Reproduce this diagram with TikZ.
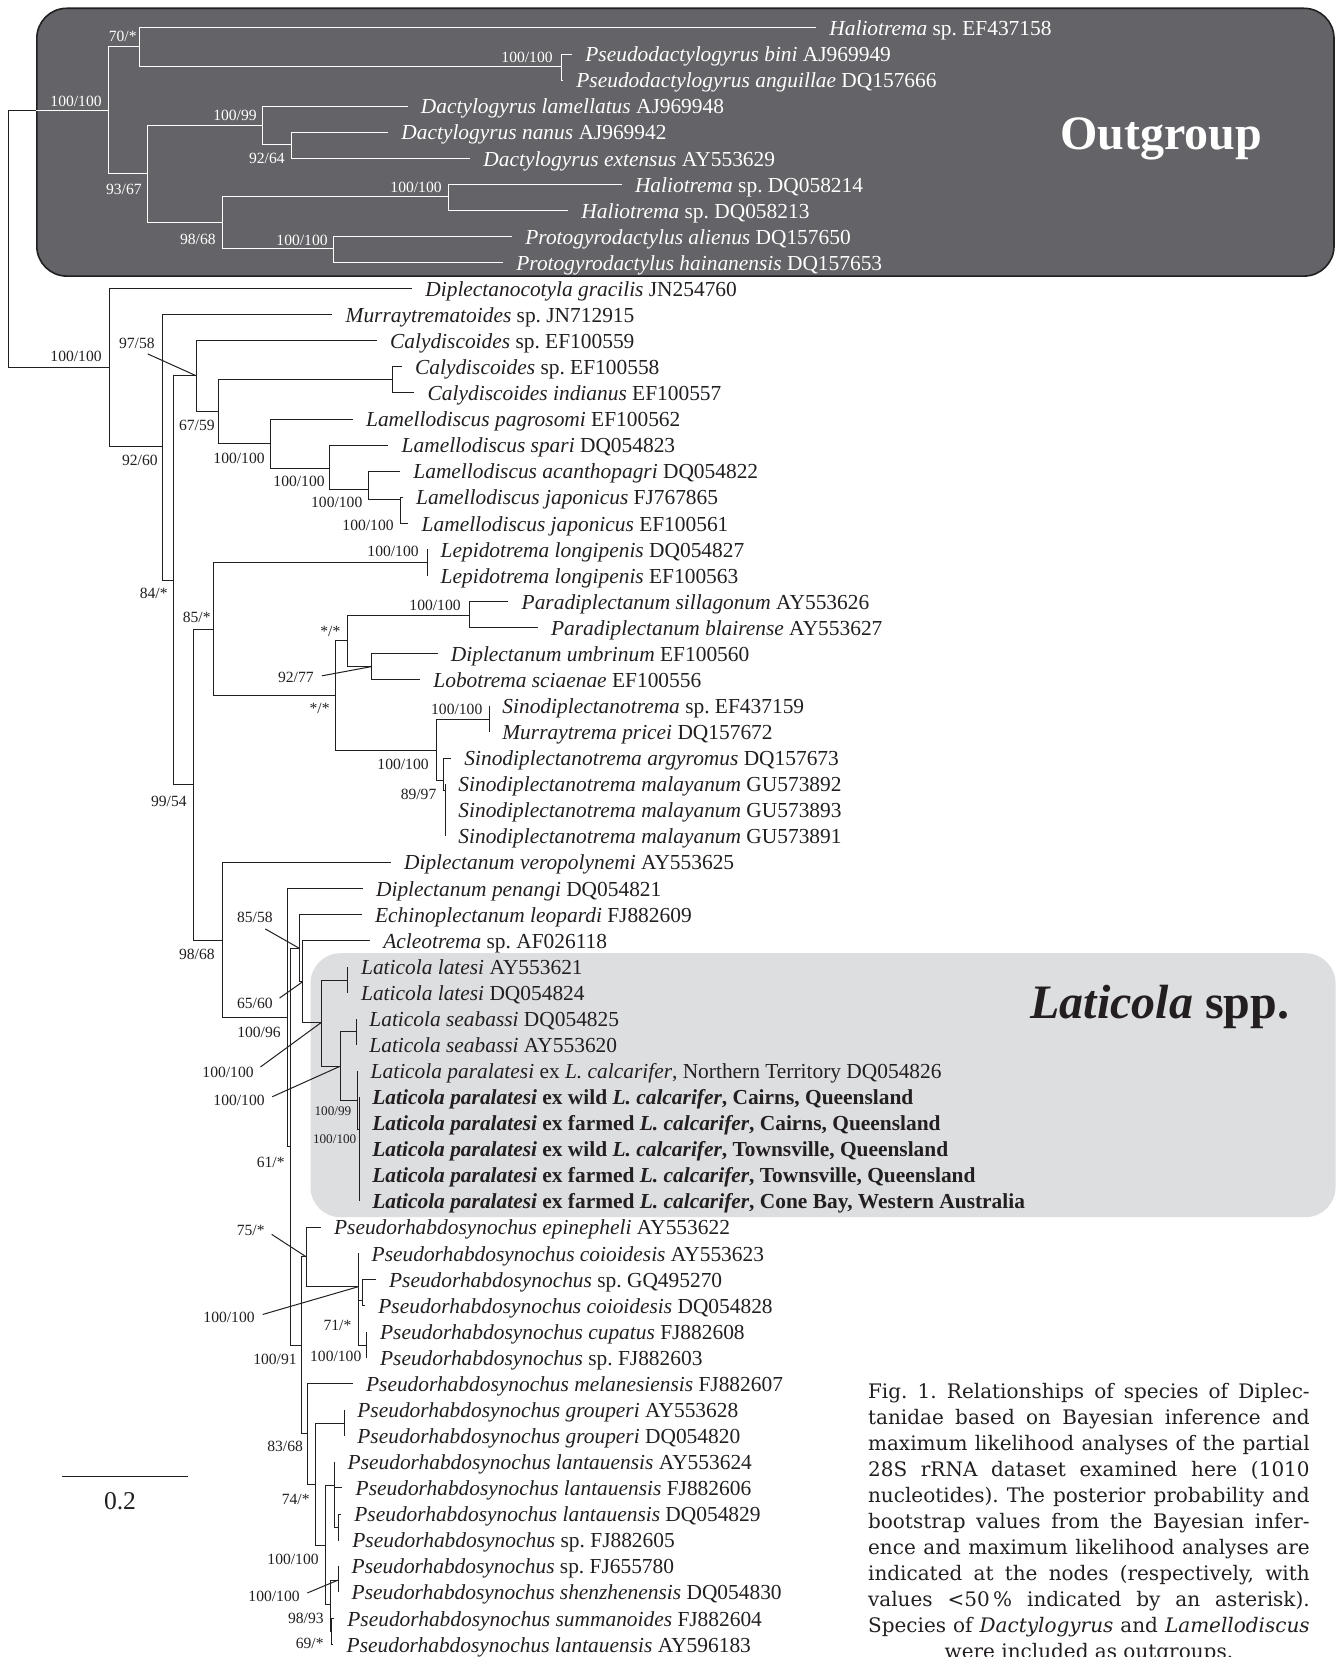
\documentclass[tikz,border=0pt]{standalone}
\usepackage{fontspec}
\setmainfont{Liberation Serif}
\newfontfamily\figcapfont{DejaVu Serif}
\usepackage{xcolor}
\usepackage{tikz}
\usetikzlibrary{positioning, calc}
\definecolor{outgroupcolor}{RGB}{99,99,104}
\definecolor{laticolacolor}{RGB}{221,222,224}
\definecolor{inkcolor}{RGB}{35,31,32}
\frenchspacing

\begin{document}
\begin{tikzpicture}[x=0.5pt, y=-0.5pt,
    branch/.style={line width=0.5pt, draw=inkcolor},
    ogbranch/.style={line width=0.5pt, draw=white},
    taxon/.style={inner sep=0pt, text height=7.9pt, text depth=0.2pt, font=\fontsize{10.7}{12}\selectfont, text=inkcolor},
    ogtaxon/.style={taxon, text=white},
    support/.style={inner sep=0pt, text height=5.3pt, text depth=0pt, font=\fontsize{7.8}{9}\selectfont, text=inkcolor, anchor=east},
    ogsupport/.style={support, text=white},
    smallsupport/.style={support, text height=4.5pt, font=\fontsize{6.6}{8}\selectfont},
    leader/.style={branch, shorten <=4pt},
    capline/.style={inner sep=0pt, anchor=base west, font=\figcapfont\fontsize{10}{13}\selectfont, text=inkcolor}]

    \path[use as bounding box, fill=white] (0,0) rectangle (1338,1657);

    % Outgroup nodes
    \coordinate (root) at (8.5,239);
    \coordinate (nA) at (108.2,111);
    \coordinate (nB) at (139.3,47);
    \coordinate (nC) at (561,66.7);
    \coordinate (nD) at (147.5,173.7);
    \coordinate (nE) at (262.5,125.7);
    \coordinate (nF) at (291,145);
    \coordinate (nG) at (222.5,223);
    \coordinate (nH) at (448,197);
    \coordinate (nI) at (333,249);
    \coordinate (t0) at (816,28);
    \coordinate (t1) at (572,54.1);
    \coordinate (t2) at (563,80.1);
    \coordinate (t3) at (407.5,106.2);
    \coordinate (t4) at (388,132.3);
    \coordinate (t5) at (470,158.4);
    \coordinate (t6) at (621.6,184.4);
    \coordinate (t7) at (568,210.5);
    \coordinate (t8) at (512,236.6);
    \coordinate (t9) at (503,262.6);

    % Ingroup nodes
    \coordinate (nJ) at (109,367.7);
    \coordinate (nK) at (162.7,447);
    \coordinate (nL) at (173.7,580);
    \coordinate (nM) at (196.7,376);
    \coordinate (nO) at (218.7,411.7);
    \coordinate (nP) at (392,380);
    \coordinate (nQ) at (270.7,443.3);
    \coordinate (nR) at (329.3,469);
    \coordinate (nS) at (368.7,490);
    \coordinate (nT) at (400,500);
    \coordinate (nN) at (193.3,784.3);
    \coordinate (nU) at (213.3,629);
    \coordinate (nW) at (427.3,562.7);
    \coordinate (nX) at (335.7,695);
    \coordinate (nY) at (347.7,640.7);
    \coordinate (nZ) at (469,615);
    \coordinate (nAA) at (371,666.7);
    \coordinate (nAB) at (436,750);
    \coordinate (nAC) at (489,719);
    \coordinate (nAD) at (443.3,780);
    \coordinate (nAE) at (445,790);
    \coordinate (nV) at (222.7,940);
    \coordinate (nAF) at (287.3,1017.7);
    \coordinate (nAG) at (290.7,1146.7);
    \coordinate (nAH) at (299.3,948.3);
    \coordinate (nAI) at (302.7,981.7);
    \coordinate (nAJ) at (321,1022.7);
    \coordinate (nAK) at (347.7,980);
    \coordinate (nAL) at (340.7,1066);
    \coordinate (nAM) at (356,1031.7);
    \coordinate (nAN) at (357.3,1100);
    \coordinate (nAO) at (359,1129.3);
    \coordinate (nAP) at (301.7,1345.7);
    \coordinate (nAQ) at (306,1256.7);
    \coordinate (nAR) at (358.3,1286.7);
    \coordinate (nAS) at (362.3,1300);
    \coordinate (nAU) at (366.7,1345);
    \coordinate (nAV) at (307.3,1433.3);
    \coordinate (nAW) at (315,1484);
    \coordinate (nAX) at (344,1423.3);
    \coordinate (nAY) at (325.7,1545.7);
    \coordinate (nAZ) at (334.3,1485);
    \coordinate (nBB) at (338.3,1527);
    \coordinate (nBC) at (330,1604);
    \coordinate (nBD) at (338.3,1580);
    \coordinate (nBE) at (331.7,1631);

    % Ingroup tips
    \coordinate (t10) at (412,288.7);
    \coordinate (t11) at (332.3,314.8);
    \coordinate (t12) at (376.7,340.8);
    \coordinate (t13) at (401.7,366.9);
    \coordinate (t14) at (414.3,393.0);
    \coordinate (t15) at (352.7,419.1);
    \coordinate (t16) at (388.3,445.1);
    \coordinate (t17) at (400,471.2);
    \coordinate (t18) at (402.7,497.3);
    \coordinate (t19) at (408.3,523.3);
    \coordinate (t20) at (427.3,549.4);
    \coordinate (t21) at (427.3,575.5);
    \coordinate (t22) at (508.3,601.5);
    \coordinate (t23) at (537.7,627.6);
    \coordinate (t24) at (437.5,653.7);
    \coordinate (t25) at (420,679.8);
    \coordinate (t26) at (489,705.8);
    \coordinate (t27) at (489,731.9);
    \coordinate (t28) at (451,758.0);
    \coordinate (t29) at (445,784.0);
    \coordinate (t30) at (445,810.1);
    \coordinate (t31) at (445,836.2);
    \coordinate (t32) at (390.7,862.2);
    \coordinate (t33) at (362.7,888.3);
    \coordinate (t34) at (361.7,914.4);
    \coordinate (t35) at (370,940.5);
    \coordinate (t36) at (347.7,966.5);
    \coordinate (t37) at (347.7,992.6);
    \coordinate (t38) at (356,1018.7);
    \coordinate (t39) at (356,1044.7);
    \coordinate (t40) at (357.3,1070.8);
    \coordinate (t41) at (359,1096.9);
    \coordinate (t42) at (359,1122.9);
    \coordinate (t43) at (359,1149.0);
    \coordinate (t44) at (359,1175.1);
    \coordinate (t45) at (359,1201.2);
    \coordinate (t46) at (320.7,1227.2);
    \coordinate (t47) at (358.3,1253.3);
    \coordinate (t48) at (375.7,1279.4);
    \coordinate (t49) at (365,1305.4);
    \coordinate (t50) at (366.7,1331.5);
    \coordinate (t51) at (366.7,1357.6);
    \coordinate (t52) at (352.7,1383.6);
    \coordinate (t53) at (344,1409.7);
    \coordinate (t54) at (344,1435.8);
    \coordinate (t55) at (334.3,1461.9);
    \coordinate (t56) at (342.3,1487.9);
    \coordinate (t57) at (341,1514.0);
    \coordinate (t58) at (339,1540.1);
    \coordinate (t59) at (338.3,1566.1);
    \coordinate (t60) at (338.3,1592.2);
    \coordinate (t61) at (334,1618.3);
    \coordinate (t62) at (333.3,1644.3);

    % Root
    \draw[branch] (root) |- (nA) (root) |- (nJ);

    % Outgroup box
    \node[draw=inkcolor, line width=0.8pt, fill=outgroupcolor, rounded corners=15pt, minimum width=648.6pt, minimum height=133.9pt, inner sep=0pt] (outbox) at (685.4,142.2) {};
    \node[anchor=base west, inner sep=0pt, text=white, font=\fontsize{24}{28}\selectfont\bfseries] (outlabel) at (1060,150) {Outgroup};

    % Outgroup branches
    \draw[ogbranch] (outbox.west |- nA) -- (nA);
    \draw[ogbranch] (nA) |- (nB) (nA) |- (nD);
    \draw[ogbranch] (nB) |- (t0) (nB) |- (nC);
    \draw[ogbranch] (nC) |- (t1) (nC) |- (t2);
    \draw[ogbranch] (nD) |- (nE) (nD) |- (nG);
    \draw[ogbranch] (nE) |- (t3) (nE) |- (nF);
    \draw[ogbranch] (nF) |- (t4) (nF) |- (t5);
    \draw[ogbranch] (nG) |- (nH) (nG) |- (nI);
    \draw[ogbranch] (nH) |- (t6) (nH) |- (t7);
    \draw[ogbranch] (nI) |- (t8) (nI) |- (t9);

    % Outgroup taxa
    \node[ogtaxon, right=6.5pt of t0] (l0) {\textit{Haliotrema} sp. EF437158};
    \node[ogtaxon, right=6.5pt of t1] (l1) {\textit{Pseudodactylogyrus bini} AJ969949};
    \node[ogtaxon, right=6.5pt of t2] (l2) {\textit{Pseudodactylogyrus anguillae} DQ157666};
    \node[ogtaxon, right=6.5pt of t3] (l3) {\textit{Dactylogyrus lamellatus} AJ969948};
    \node[ogtaxon, right=6.5pt of t4] (l4) {\textit{Dactylogyrus nanus} AJ969942};
    \node[ogtaxon, right=6.5pt of t5] (l5) {\textit{Dactylogyrus extensus} AY553629};
    \node[ogtaxon, right=6.5pt of t6] (l6) {\textit{Haliotrema} sp. DQ058214};
    \node[ogtaxon, right=6.5pt of t7] (l7) {\textit{Haliotrema} sp. DQ058213};
    \node[ogtaxon, right=6.5pt of t8] (l8) {\textit{Protogyrodactylus alienus} DQ157650};
    \node[ogtaxon, right=6.5pt of t9] (l9) {\textit{Protogyrodactylus hainanensis} DQ157653};

    % Outgroup support values
    \node[ogsupport] (s1) at (102,101.7) {100/100};
    \node[ogsupport] (s2) at (137,36) {70/*};
    \node[ogsupport] (s3) at (553,57) {100/100};
    \node[ogsupport] (s4) at (142,189) {93/67};
    \node[ogsupport] (s5) at (257,115) {100/99};
    \node[ogsupport] (s6) at (285,158) {92/64};
    \node[ogsupport] (s7) at (216,239) {98/68};
    \node[ogsupport] (s8) at (442,187) {100/100};
    \node[ogsupport] (s9) at (328,240.7) {100/100};

    % Laticola box
    \node[fill=laticolacolor, rounded corners=15pt, minimum width=512.5pt, minimum height=132pt, inner sep=0pt] (laticolabox) at (823,1085.2) {};
    \node[anchor=base west, inner sep=0pt, text=inkcolor, font=\fontsize{24}{28}\selectfont\bfseries] (laticolalabel) at (1030,1018) {\textit{Laticola} spp.};

    % Ingroup branches
    \draw[branch] (nJ) |- (t10) (nJ) |- (nK);
    \draw[branch] (nK) |- (t11) (nK) |- (nL);
    \draw[branch] (nL) |- (nM) (nL) |- (nN);
    \draw[branch] (nM) |- (t12) (nM) |- (nO);
    \draw[branch] (nO) |- (nP) (nO) |- (nQ);
    \draw[branch] (nP) |- (t13) (nP) |- (t14);
    \draw[branch] (nQ) |- (t15) (nQ) |- (nR);
    \draw[branch] (nR) |- (t16) (nR) |- (nS);
    \draw[branch] (nS) |- (t17) (nS) |- (nT);
    \draw[branch] (nT) |- (t18) (nT) |- (t19);
    \draw[branch] (nN) |- (nU) (nN) |- (nV);
    \draw[branch] (nU) |- (nW) (nU) |- (nX);
    \draw[branch] (nW) |- (t20) (nW) |- (t21);
    \draw[branch] (nX) |- (nY) (nX) |- (nAB);
    \draw[branch] (nY) |- (nZ) (nY) |- (nAA);
    \draw[branch] (nZ) |- (t22) (nZ) |- (t23);
    \draw[branch] (nAA) |- (t24) (nAA) |- (t25);
    \draw[branch] (nAB) |- (nAC) (nAB) |- (nAD);
    \draw[branch] (nAC) |- (t26) (nAC) |- (t27);
    \draw[branch] (nAD) |- (t28) (nAD) |- (nAE);
    \draw[branch] (nAE) |- (t29) (nAE) |- (t30) (nAE) |- (t31);
    \draw[branch] (nV) |- (t32) (nV) |- (nAF);
    \draw[branch] (nAF) |- (t33) (nAF) |- (nAG);
    \draw[branch] (nAG) |- (nAH) (nAG) |- (nAP);
    \draw[branch] (nAH) |- (t34) (nAH) |- (nAI);
    \draw[branch] (nAI) |- (t35) (nAI) |- (nAJ);
    \draw[branch] (nAJ) |- (nAK) (nAJ) |- (nAL);
    \draw[branch] (nAK) |- (t36) (nAK) |- (t37);
    \draw[branch] (nAL) |- (nAM) (nAL) |- (nAN);
    \draw[branch] (nAM) |- (t38) (nAM) |- (t39);
    \draw[branch] (nAN) |- (t40) (nAN) |- (nAO);
    \draw[branch] (nAO) |- (t41) (nAO) |- (t42) (nAO) |- (t43) (nAO) |- (t44) (nAO) |- (t45);
    \draw[branch] (nAP) |- (nAQ) (nAP) |- (nAV);
    \draw[branch] (nAQ) |- (t46) (nAQ) |- (nAR);
    \draw[branch] (nAR) |- (t47) (nAR) |- (nAS) (nAR) |- (nAU);
    \draw[branch] (nAS) |- (t48) (nAS) |- (t49);
    \draw[branch] (nAU) |- (t50) (nAU) |- (t51);
    \draw[branch] (nAV) |- (t52) (nAV) |- (nAW);
    \draw[branch] (nAW) |- (nAX) (nAW) |- (nAY);
    \draw[branch] (nAX) |- (t53) (nAX) |- (t54);
    \draw[branch] (nAY) |- (nAZ) (nAY) |- (nBC);
    \draw[branch] (nAZ) |- (t55) (nAZ) |- (t56) (nAZ) |- (nBB);
    \draw[branch] (nBB) |- (t57) (nBB) |- (t58);
    \draw[branch] (nBC) |- (nBD) (nBC) |- (nBE);
    \draw[branch] (nBD) |- (t59) (nBD) |- (t60);
    \draw[branch] (nBE) |- (t61) (nBE) |- (t62);

    % Ingroup taxa
    \node[taxon, right=6.5pt of t10] (l10) {\textit{Diplectanocotyla gracilis} JN254760};
    \node[taxon, right=6.5pt of t11] (l11) {\textit{Murraytrematoides} sp. JN712915};
    \node[taxon, right=6.5pt of t12] (l12) {\textit{Calydiscoides} sp. EF100559};
    \node[taxon, right=6.5pt of t13] (l13) {\textit{Calydiscoides} sp. EF100558};
    \node[taxon, right=6.5pt of t14] (l14) {\textit{Calydiscoides indianus} EF100557};
    \node[taxon, right=6.5pt of t15] (l15) {\textit{Lamellodiscus pagrosomi} EF100562};
    \node[taxon, right=6.5pt of t16] (l16) {\textit{Lamellodiscus spari} DQ054823};
    \node[taxon, right=6.5pt of t17] (l17) {\textit{Lamellodiscus acanthopagri} DQ054822};
    \node[taxon, right=6.5pt of t18] (l18) {\textit{Lamellodiscus japonicus} FJ767865};
    \node[taxon, right=6.5pt of t19] (l19) {\textit{Lamellodiscus japonicus} EF100561};
    \node[taxon, right=6.5pt of t20] (l20) {\textit{Lepidotrema longipenis} DQ054827};
    \node[taxon, right=6.5pt of t21] (l21) {\textit{Lepidotrema longipenis} EF100563};
    \node[taxon, right=6.5pt of t22] (l22) {\textit{Paradiplectanum sillagonum} AY553626};
    \node[taxon, right=6.5pt of t23] (l23) {\textit{Paradiplectanum blairense} AY553627};
    \node[taxon, right=6.5pt of t24] (l24) {\textit{Diplectanum umbrinum} EF100560};
    \node[taxon, right=6.5pt of t25] (l25) {\textit{Lobotrema sciaenae} EF100556};
    \node[taxon, right=6.5pt of t26] (l26) {\textit{Sinodiplectanotrema} sp. EF437159};
    \node[taxon, right=6.5pt of t27] (l27) {\textit{Murraytrema pricei} DQ157672};
    \node[taxon, right=6.5pt of t28] (l28) {\textit{Sinodiplectanotrema argyromus} DQ157673};
    \node[taxon, right=6.5pt of t29] (l29) {\textit{Sinodiplectanotrema malayanum} GU573892};
    \node[taxon, right=6.5pt of t30] (l30) {\textit{Sinodiplectanotrema malayanum} GU573893};
    \node[taxon, right=6.5pt of t31] (l31) {\textit{Sinodiplectanotrema malayanum} GU573891};
    \node[taxon, right=6.5pt of t32] (l32) {\textit{Diplectanum veropolynemi} AY553625};
    \node[taxon, right=6.5pt of t33] (l33) {\textit{Diplectanum penangi} DQ054821};
    \node[taxon, right=6.5pt of t34] (l34) {\textit{Echinoplectanum leopardi} FJ882609};
    \node[taxon, right=6.5pt of t35] (l35) {\textit{Acleotrema} sp. AF026118};
    \node[taxon, right=6.5pt of t36] (l36) {\textit{Laticola latesi} AY553621};
    \node[taxon, right=6.5pt of t37] (l37) {\textit{Laticola latesi} DQ054824};
    \node[taxon, right=6.5pt of t38] (l38) {\textit{Laticola seabassi} DQ054825};
    \node[taxon, right=6.5pt of t39] (l39) {\textit{Laticola seabassi} AY553620};
    \node[taxon, right=6.5pt of t40] (l40) {\textit{Laticola paralatesi} ex \textit{L. calcarifer}, Northern Territory DQ054826};
    \node[taxon, right=6.5pt of t41] (l41) {\textbf{\textit{Laticola paralatesi} ex wild \textit{L. calcarifer}, Cairns, Queensland}};
    \node[taxon, right=6.5pt of t42] (l42) {\textbf{\textit{Laticola paralatesi} ex farmed \textit{L. calcarifer}, Cairns, Queensland}};
    \node[taxon, right=6.5pt of t43] (l43) {\textbf{\textit{Laticola paralatesi} ex wild \textit{L. calcarifer}, Townsville, Queensland}};
    \node[taxon, right=6.5pt of t44] (l44) {\textbf{\textit{Laticola paralatesi} ex farmed \textit{L. calcarifer}, Townsville, Queensland}};
    \node[taxon, right=6.5pt of t45] (l45) {\textbf{\textit{Laticola paralatesi} ex farmed \textit{L. calcarifer}, Cone Bay, Western Australia}};
    \node[taxon, right=6.5pt of t46] (l46) {\textit{Pseudorhabdosynochus epinepheli} AY553622};
    \node[taxon, right=6.5pt of t47] (l47) {\textit{Pseudorhabdosynochus coioidesis} AY553623};
    \node[taxon, right=6.5pt of t48] (l48) {\textit{Pseudorhabdosynochus} sp. GQ495270};
    \node[taxon, right=6.5pt of t49] (l49) {\textit{Pseudorhabdosynochus coioidesis} DQ054828};
    \node[taxon, right=6.5pt of t50] (l50) {\textit{Pseudorhabdosynochus cupatus} FJ882608};
    \node[taxon, right=6.5pt of t51] (l51) {\textit{Pseudorhabdosynochus} sp. FJ882603};
    \node[taxon, right=6.5pt of t52] (l52) {\textit{Pseudorhabdosynochus melanesiensis} FJ882607};
    \node[taxon, right=6.5pt of t53] (l53) {\textit{Pseudorhabdosynochus grouperi} AY553628};
    \node[taxon, right=6.5pt of t54] (l54) {\textit{Pseudorhabdosynochus grouperi} DQ054820};
    \node[taxon, right=6.5pt of t55] (l55) {\textit{Pseudorhabdosynochus lantauensis} AY553624};
    \node[taxon, right=6.5pt of t56] (l56) {\textit{Pseudorhabdosynochus lantauensis} FJ882606};
    \node[taxon, right=6.5pt of t57] (l57) {\textit{Pseudorhabdosynochus lantauensis} DQ054829};
    \node[taxon, right=6.5pt of t58] (l58) {\textit{Pseudorhabdosynochus} sp. FJ882605};
    \node[taxon, right=6.5pt of t59] (l59) {\textit{Pseudorhabdosynochus} sp. FJ655780};
    \node[taxon, right=6.5pt of t60] (l60) {\textit{Pseudorhabdosynochus shenzhenensis} DQ054830};
    \node[taxon, right=6.5pt of t61] (l61) {\textit{Pseudorhabdosynochus summanoides} FJ882604};
    \node[taxon, right=6.5pt of t62] (l62) {\textit{Pseudorhabdosynochus lantauensis} AY596183};

    % Ingroup support values
    \node[support] (s10) at (102,356.7) {100/100};
    \node[support] (s11) at (155,343.3) {97/58};
    \node[support] (s12) at (158,460.7) {92/60};
    \node[support] (s13) at (215,425.7) {67/59};
    \node[support] (s14) at (265,458.3) {100/100};
    \node[support] (s15) at (325,481.7) {100/100};
    \node[support] (s16) at (362.7,502.3) {100/100};
    \node[support] (s17) at (394,525) {100/100};
    \node[support] (s18) at (168,593) {84/*};
    \node[support] (s19) at (187,801) {99/54};
    \node[support] (s20) at (211,616.7) {85/*};
    \node[support] (s21) at (419,551) {100/100};
    \node[support] (s22) at (330,707.7) {*/*};
    \node[support] (s23) at (340.7,630.7) {*/*};
    \node[support] (s24) at (461,605) {100/100};
    \node[support] (s25) at (314,677.3) {92/77};
    \node[support] (s26) at (429,764.3) {100/100};
    \node[support] (s27) at (482.7,709) {100/100};
    \node[support] (s28) at (436.7,794) {89/97};
    \node[support] (s29) at (215,954.3) {98/68};
    \node[support] (s30) at (281,1032.3) {100/96};
    \node[support] (s31) at (273,917.3) {85/58};
    \node[support] (s32) at (273,1002.7) {65/60};
    \node[support] (s33) at (254,1071.7) {100/100};
    \node[support] (s34) at (265,1100) {100/100};
    \node[smallsupport] (s35) at (351.7,1110.7) {100/99};
    \node[smallsupport] (s36) at (356.7,1139.3) {100/100};
    \node[support] (s37) at (285,1161.7) {61/*};
    \node[support] (s38) at (297,1359) {100/91};
    \node[support] (s39) at (265,1230) {75/*};
    \node[support] (s40) at (255,1316.7) {100/100};
    \node[support] (s41) at (351.7,1325) {71/*};
    \node[support] (s42) at (361.7,1355.7) {100/100};
    \node[support] (s43) at (303.3,1445.7) {83/68};
    \node[support] (s44) at (310,1499.3) {74/*};
    \node[support] (s45) at (319,1559) {100/100};
    \node[support] (s46) at (300,1596) {100/100};
    \node[support] (s47) at (324,1617.7) {98/93};
    \node[support] (s48) at (324,1643.3) {69/*};

    % Leaders from support values to their nodes
    \draw[leader, shorten <=6pt] (s11.south) -- (nM);
    \draw[leader] (s25.east) -- (nAA);
    \draw[leader, shorten <=6pt] (s31.south) -- (nAH);
    \draw[leader] (s32.east) -- (nAI);
    \draw[leader] (s33.east) -- (nAJ);
    \draw[leader] (s34.east) -- (nAL);
    \draw[leader] (s39.east) -- (nAQ);
    \draw[leader] (s40.east) -- (nAR);
    \draw[leader] (s46.east) -- (nBD);

    % Scale bar
    \coordinate (barleft) at (62.3,1476);
    \coordinate (barright) at (187.7,1476);
    \draw[branch] (barleft) -- (barright);
    \node[inner sep=0pt, text height=8.7pt, text depth=0pt, text=inkcolor, font=\fontsize{12.8}{14}\selectfont] (barlabel) at (120,1501) {0.2};

    % Caption
    \node[capline] (cap1) at (867.7,1398) {\makebox[220.8pt][s]{Fig. 1. Relationships of species of Diplec-}};
    \node[capline] (cap2) at (867.7,1424) {\makebox[220.8pt][s]{tanidae based on Bayesian inference and}};
    \node[capline] (cap3) at (867.7,1450) {\makebox[220.8pt][s]{maximum likelihood analyses of the partial}};
    \node[capline] (cap4) at (867.7,1476) {\makebox[220.8pt][s]{28S rRNA dataset examined here (1010}};
    \node[capline] (cap5) at (867.7,1502) {\makebox[220.8pt][s]{nucleotides). The posterior probability and}};
    \node[capline] (cap6) at (867.7,1528) {\makebox[220.8pt][s]{bootstrap values from the Bayesian infer-}};
    \node[capline] (cap7) at (867.7,1554) {\makebox[220.8pt][s]{ence and maximum likelihood analyses are}};
    \node[capline] (cap8) at (867.7,1580) {\makebox[220.8pt][s]{indicated at the nodes (respectively, with}};
    \node[capline] (cap9) at (867.7,1606) {\makebox[220.8pt][s]{values <50\,\% indicated by an asterisk).}};
    \node[capline] (cap10) at (867.7,1632) {\makebox[220.8pt][s]{Species of \textit{Dactylogyrus} and \textit{Lamellodiscus}}};
    \node[capline] (cap11) at (867.7,1658) {\makebox[220.8pt][c]{were included as outgroups.}};
\end{tikzpicture}
\end{document}
